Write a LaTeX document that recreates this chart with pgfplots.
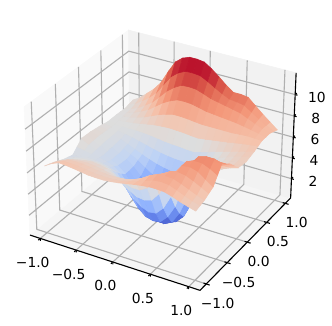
\documentclass[border=0pt]{standalone}
\usepackage{fontspec}
\setmainfont{DejaVu Sans}
\usepackage{pgfplots}
\pgfplotsset{compat=1.18}
\definecolor{gridc}{gray}{0.69}
\definecolor{paneA}{gray}{0.975}
\definecolor{paneB}{gray}{0.95}
\definecolor{paneC}{gray}{0.9625}
% pgfplots has no perspective view, so the point macro is replaced by one with a camera at distance 10
\makeatletter
\def\perspxyz#1#2#3{%
  \begingroup
  \pgfmathparse{10/(10-0.2159*(#1)+0.3741*(#2)-0.03602*((#3)-6.05))}\let\perspf=\pgfmathresult
  \pgfmathparse{(#3)-6.05}\let\perspz=\pgfmathresult
  \pgf@xa=#1\pgf@xx \advance\pgf@xa by #2\pgf@yx \advance\pgf@xa by \perspz\pgf@zx
  \pgf@ya=#1\pgf@xy \advance\pgf@ya by #2\pgf@yy \advance\pgf@ya by \perspz\pgf@zy
  \pgf@xb=6.05\pgf@zx \pgf@yb=6.05\pgf@zy
  \global\pgf@x=\perspf\pgf@xa \global\advance\pgf@x by \pgf@xb
  \global\pgf@y=\perspf\pgf@ya \global\advance\pgf@y by \pgf@yb
  \endgroup}
\makeatother
\begin{document}
\begin{tikzpicture}
\begin{axis}[
    disabledatascaling,
    x={(53.22pt,-15.36pt)}, y={(30.72pt,26.60pt)}, z={(0pt,7.69pt)},
    xmin=-1.1458, xmax=1.1458, ymin=-1.1458, ymax=1.1458, zmin=0.1, zmax=12,
    xtick={-1,-0.5,0,0.5,1}, ytick={-1,-0.5,0,0.5,1}, ztick={2,4,6,8,10},
    xticklabels={−1.0,−0.5,0.0,0.5,1.0},
    yticklabels={−1.0,−0.5,0.0,0.5,1.0},
    zticklabels={2,4,6,8,10},
    tick label style={font=\fontsize{10}{12}\selectfont,anchor=center},
    xticklabel style={xshift=-4pt,yshift=-16pt},
    yticklabel style={xshift=6.5pt,yshift=-13.5pt},
    zticklabel style={xshift=14.5pt,yshift=-3pt},
    axis line style={draw=none},
    tick style={black,line width=0.8pt},
    ytick style={draw=none},
    major tick length=3.5pt, tick align=center,
    xtick pos=left, ytick pos=right, ztick pos=right,
    yticklabel pos=left, zticklabel pos=right,
    clip=false,
    execute at begin axis={\global\let\pgfplotsqpointxyz=\perspxyz},
    colormap={coolwarm}{rgb255(0pt)=(58,76,192); rgb255(1pt)=(98,130,234); rgb255(2pt)=(141,176,254);
      rgb255(3pt)=(192,212,245); rgb255(4pt)=(221,221,221); rgb255(5pt)=(245,196,173);
      rgb255(6pt)=(244,152,122); rgb255(7pt)=(222,96,77); rgb255(8pt)=(180,4,38)},
    point meta min=0.8, point meta max=10.9,
]
  \pgfplotsextra{\global\let\pgfplotsqpointxyz=\perspxyz}
  % panes
  \addplot3[fill=paneC,draw=paneC,forget plot] coordinates {(-1.1458,-1.1458,0.1) (1.1458,-1.1458,0.1) (1.1458,1.1458,0.1) (-1.1458,1.1458,0.1) (-1.1458,-1.1458,0.1)};
  \addplot3[fill=paneA,draw=paneA,forget plot] coordinates {(-1.1458,-1.1458,0.1) (-1.1458,1.1458,0.1) (-1.1458,1.1458,12) (-1.1458,-1.1458,12) (-1.1458,-1.1458,0.1)};
  \addplot3[fill=paneB,draw=paneB,forget plot] coordinates {(-1.1458,1.1458,0.1) (1.1458,1.1458,0.1) (1.1458,1.1458,12) (-1.1458,1.1458,12) (-1.1458,1.1458,0.1)};
  % grid
  \pgfplotsinvokeforeach{-1,-0.5,0,0.5,1}{
    \addplot3[gridc,line width=0.8pt,forget plot] coordinates {(#1,-1.1458,0.1) (#1,1.1458,0.1) (#1,1.1458,12)};
    \addplot3[gridc,line width=0.8pt,forget plot] coordinates {(1.1458,#1,0.1) (-1.1458,#1,0.1) (-1.1458,#1,12)};
  }
  \pgfplotsinvokeforeach{2,4,6,8,10}{
    \addplot3[gridc,line width=0.8pt,forget plot] coordinates {(-1.1458,-1.1458,#1) (-1.1458,1.1458,#1) (1.1458,1.1458,#1)};
  }
  % axis lines, and the y ticks that the native ones would put on the far edge
  \addplot3[black,line width=0.8pt,forget plot] coordinates {(-1.1458,-1.1458,0.1) (1.1458,-1.1458,0.1) (1.1458,1.1458,0.1) (1.1458,1.1458,12)};
  \pgfplotsinvokeforeach{-1,-0.5,0,0.5,1}{
    \addplot3[black,line width=0.8pt,forget plot] coordinates {(1.11,#1,0.1) (1.19,#1,0.1)};
  }
  % surface
  \addplot3[surf,shader=flat mean,z buffer=sort,forget plot] coordinates {
(-1.0,-1.0,6.42) (-0.9,-1.0,6.85) (-0.8,-1.0,7.13) (-0.7,-1.0,7.08) (-0.6,-1.0,7.0) (-0.5,-1.0,6.9) (-0.4,-1.0,6.8) (-0.3,-1.0,6.77) (-0.2,-1.0,6.77) (-0.1,-1.0,6.83) (0.0,-1.0,6.93) (0.1,-1.0,7.06) (0.2,-1.0,7.2) (0.3,-1.0,7.31) (0.4,-1.0,7.4) (0.5,-1.0,7.41) (0.6,-1.0,7.36) (0.7,-1.0,7.16) (0.8,-1.0,6.89) (0.9,-1.0,6.68) (1.0,-1.0,6.48)

(-1.0,-0.9,6.25) (-0.9,-0.9,6.64) (-0.8,-0.9,6.92) (-0.7,-0.9,6.9) (-0.6,-0.9,6.85) (-0.5,-0.9,6.75) (-0.4,-0.9,6.65) (-0.3,-0.9,6.6) (-0.2,-0.9,6.59) (-0.1,-0.9,6.63) (0.0,-0.9,6.72) (0.1,-0.9,6.89) (0.2,-0.9,7.1) (0.3,-0.9,7.4) (0.4,-0.9,7.65) (0.5,-0.9,7.72) (0.6,-0.9,7.65) (0.7,-0.9,7.4) (0.8,-0.9,7.1) (0.9,-0.9,6.84) (1.0,-0.9,6.61)

(-1.0,-0.8,6.07) (-0.9,-0.8,6.42) (-0.8,-0.8,6.7) (-0.7,-0.8,6.72) (-0.6,-0.8,6.7) (-0.5,-0.8,6.6) (-0.4,-0.8,6.5) (-0.3,-0.8,6.43) (-0.2,-0.8,6.4) (-0.1,-0.8,6.43) (0.0,-0.8,6.5) (0.1,-0.8,6.72) (0.2,-0.8,7.05) (0.3,-0.8,7.5) (0.4,-0.8,7.8) (0.5,-0.8,7.9) (0.6,-0.8,7.85) (0.7,-0.8,7.6) (0.8,-0.8,7.3) (0.9,-0.8,7.0) (1.0,-0.8,6.74)

(-1.0,-0.7,5.86) (-0.9,-0.7,6.13) (-0.8,-0.7,6.35) (-0.7,-0.7,6.42) (-0.6,-0.7,6.45) (-0.5,-0.7,6.36) (-0.4,-0.7,6.25) (-0.3,-0.7,6.1) (-0.2,-0.7,5.9) (-0.1,-0.7,5.6) (0.0,-0.7,5.4) (0.1,-0.7,5.4) (0.2,-0.7,5.8) (0.3,-0.7,6.6) (0.4,-0.7,7.5) (0.5,-0.7,7.9) (0.6,-0.7,8.1) (0.7,-0.7,8.0) (0.8,-0.7,7.7) (0.9,-0.7,7.35) (1.0,-0.7,6.97)

(-1.0,-0.6,5.65) (-0.9,-0.6,5.84) (-0.8,-0.6,6.0) (-0.7,-0.6,6.12) (-0.6,-0.6,6.2) (-0.5,-0.6,6.12) (-0.4,-0.6,6.0) (-0.3,-0.6,5.6) (-0.2,-0.6,5.1) (-0.1,-0.6,4.6) (0.0,-0.6,4.2) (0.1,-0.6,4.1) (0.2,-0.6,4.3) (0.3,-0.6,5.1) (0.4,-0.6,6.3) (0.5,-0.6,7.4) (0.6,-0.6,8.3) (0.7,-0.6,8.4) (0.8,-0.6,8.2) (0.9,-0.6,7.7) (1.0,-0.6,7.2)

(-1.0,-0.5,5.5) (-0.9,-0.5,5.65) (-0.8,-0.5,5.75) (-0.7,-0.5,5.8) (-0.6,-0.5,5.8) (-0.5,-0.5,5.68) (-0.4,-0.5,5.5) (-0.3,-0.5,4.9) (-0.2,-0.5,4.2) (-0.1,-0.5,3.4) (0.0,-0.5,2.9) (0.1,-0.5,2.6) (0.2,-0.5,2.7) (0.3,-0.5,3.4) (0.4,-0.5,4.7) (0.5,-0.5,6.6) (0.6,-0.5,8.3) (0.7,-0.5,8.6) (0.8,-0.5,8.6) (0.9,-0.5,8.3) (1.0,-0.5,7.9)

(-1.0,-0.4,5.36) (-0.9,-0.4,5.45) (-0.8,-0.4,5.5) (-0.7,-0.4,5.47) (-0.6,-0.4,5.4) (-0.5,-0.4,5.24) (-0.4,-0.4,5.0) (-0.3,-0.4,4.1) (-0.2,-0.4,3.1) (-0.1,-0.4,2.2) (0.0,-0.4,1.6) (0.1,-0.4,1.4) (0.2,-0.4,1.5) (0.3,-0.4,2.2) (0.4,-0.4,3.4) (0.5,-0.4,5.4) (0.6,-0.4,7.7) (0.7,-0.4,8.6) (0.8,-0.4,8.8) (0.9,-0.4,8.8) (1.0,-0.4,8.6)

(-1.0,-0.3,5.8) (-0.9,-0.3,5.68) (-0.8,-0.3,5.55) (-0.7,-0.3,5.38) (-0.6,-0.3,5.2) (-0.5,-0.3,4.97) (-0.4,-0.3,4.5) (-0.3,-0.3,3.6) (-0.2,-0.3,2.6) (-0.1,-0.3,1.7) (0.0,-0.3,1.15) (0.1,-0.3,0.95) (0.2,-0.3,0.95) (0.3,-0.3,1.3) (0.4,-0.3,2.4) (0.5,-0.3,4.0) (0.6,-0.3,6.1) (0.7,-0.3,7.6) (0.8,-0.3,8.0) (0.9,-0.3,8.2) (1.0,-0.3,8.2)

(-1.0,-0.2,6.25) (-0.9,-0.2,5.9) (-0.8,-0.2,5.6) (-0.7,-0.2,5.3) (-0.6,-0.2,5.0) (-0.5,-0.2,4.7) (-0.4,-0.2,4.1) (-0.3,-0.2,3.2) (-0.2,-0.2,2.3) (-0.1,-0.2,1.4) (0.0,-0.2,0.95) (0.1,-0.2,0.8) (0.2,-0.2,0.8) (0.3,-0.2,1.0) (0.4,-0.2,1.7) (0.5,-0.2,3.2) (0.6,-0.2,5.1) (0.7,-0.2,6.4) (0.8,-0.2,7.1) (0.9,-0.2,7.55) (1.0,-0.2,7.85)

(-1.0,-0.1,6.22) (-0.9,-0.1,5.93) (-0.8,-0.1,5.65) (-0.7,-0.1,5.33) (-0.6,-0.1,5.0) (-0.5,-0.1,4.66) (-0.4,-0.1,4.1) (-0.3,-0.1,3.3) (-0.2,-0.1,2.5) (-0.1,-0.1,1.75) (0.0,-0.1,1.15) (0.1,-0.1,0.9) (0.2,-0.1,0.85) (0.3,-0.1,1.15) (0.4,-0.1,2.0) (0.5,-0.1,3.6) (0.6,-0.1,5.2) (0.7,-0.1,6.1) (0.8,-0.1,6.7) (0.9,-0.1,7.08) (1.0,-0.1,7.32)

(-1.0,0.0,6.2) (-0.9,0.0,5.97) (-0.8,0.0,5.7) (-0.7,0.0,5.37) (-0.6,0.0,5.0) (-0.5,0.0,4.62) (-0.4,0.0,4.15) (-0.3,0.0,3.45) (-0.2,0.0,2.8) (-0.1,0.0,2.2) (0.0,0.0,1.7) (0.1,0.0,1.35) (0.2,0.0,1.2) (0.3,0.0,1.6) (0.4,0.0,2.6) (0.5,0.0,3.9) (0.6,0.0,5.1) (0.7,0.0,5.8) (0.8,0.0,6.3) (0.9,0.0,6.6) (1.0,0.0,6.8)

(-1.0,0.1,6.12) (-0.9,0.1,5.93) (-0.8,0.1,5.7) (-0.7,0.1,5.42) (-0.6,0.1,5.1) (-0.5,0.1,4.76) (-0.4,0.1,4.4) (-0.3,0.1,3.9) (-0.2,0.1,3.45) (-0.1,0.1,3.05) (0.0,0.1,2.7) (0.1,0.1,2.5) (0.2,0.1,2.45) (0.3,0.1,2.9) (0.4,0.1,3.8) (0.5,0.1,4.7) (0.6,0.1,5.45) (0.7,0.1,5.92) (0.8,0.1,6.3) (0.9,0.1,6.55) (1.0,0.1,6.72)

(-1.0,0.2,6.05) (-0.9,0.2,5.9) (-0.8,0.2,5.7) (-0.7,0.2,5.47) (-0.6,0.2,5.2) (-0.5,0.2,4.9) (-0.4,0.2,4.6) (-0.3,0.2,4.33) (-0.2,0.2,4.1) (-0.1,0.2,3.92) (0.0,0.2,3.8) (0.1,0.2,3.8) (0.2,0.2,3.9) (0.3,0.2,4.33) (0.4,0.2,4.8) (0.5,0.2,5.27) (0.6,0.2,5.7) (0.7,0.2,6.03) (0.8,0.2,6.3) (0.9,0.2,6.5) (1.0,0.2,6.65)

(-1.0,0.3,5.95) (-0.9,0.3,5.86) (-0.8,0.3,5.75) (-0.7,0.3,5.62) (-0.6,0.3,5.5) (-0.5,0.3,5.33) (-0.4,0.3,5.15) (-0.3,0.3,4.96) (-0.2,0.3,4.8) (-0.1,0.3,4.68) (0.0,0.3,4.6) (0.1,0.3,4.56) (0.2,0.3,4.6) (0.3,0.3,4.9) (0.4,0.3,5.25) (0.5,0.3,5.58) (0.6,0.3,5.9) (0.7,0.3,6.17) (0.8,0.3,6.4) (0.9,0.3,6.6) (1.0,0.3,6.78)

(-1.0,0.4,5.85) (-0.9,0.4,5.82) (-0.8,0.4,5.8) (-0.7,0.4,5.78) (-0.6,0.4,5.8) (-0.5,0.4,5.76) (-0.4,0.4,5.7) (-0.3,0.4,5.6) (-0.2,0.4,5.5) (-0.1,0.4,5.44) (0.0,0.4,5.4) (0.1,0.4,5.33) (0.2,0.4,5.3) (0.3,0.4,5.48) (0.4,0.4,5.7) (0.5,0.4,5.9) (0.6,0.4,6.1) (0.7,0.4,6.3) (0.8,0.4,6.5) (0.9,0.4,6.7) (1.0,0.4,6.9)

(-1.0,0.5,5.85) (-0.9,0.5,5.86) (-0.8,0.5,5.9) (-0.7,0.5,5.98) (-0.6,0.5,6.1) (-0.5,0.5,6.23) (-0.4,0.5,6.35) (-0.3,0.5,6.41) (-0.2,0.5,6.45) (-0.1,0.5,6.42) (0.0,0.5,6.38) (0.1,0.5,6.3) (0.2,0.5,6.25) (0.3,0.5,6.34) (0.4,0.5,6.45) (0.5,0.5,6.55) (0.6,0.5,6.65) (0.7,0.5,6.78) (0.8,0.5,6.9) (0.9,0.5,6.99) (1.0,0.5,7.08)

(-1.0,0.6,5.85) (-0.9,0.6,5.9) (-0.8,0.6,6.0) (-0.7,0.6,6.18) (-0.6,0.6,6.4) (-0.5,0.6,6.7) (-0.4,0.6,7.0) (-0.3,0.6,7.22) (-0.2,0.6,7.4) (-0.1,0.6,7.4) (0.0,0.6,7.35) (0.1,0.6,7.27) (0.2,0.6,7.2) (0.3,0.6,7.2) (0.4,0.6,7.2) (0.5,0.6,7.2) (0.6,0.6,7.2) (0.7,0.6,7.25) (0.8,0.6,7.3) (0.9,0.6,7.28) (1.0,0.6,7.25)

(-1.0,0.7,5.83) (-0.9,0.7,5.95) (-0.8,0.7,6.15) (-0.7,0.7,6.45) (-0.6,0.7,6.8) (-0.5,0.7,7.3) (-0.4,0.7,7.8) (-0.3,0.7,8.17) (-0.2,0.7,8.45) (-0.1,0.7,8.48) (0.0,0.7,8.43) (0.1,0.7,8.27) (0.2,0.7,8.1) (0.3,0.7,8.03) (0.4,0.7,7.95) (0.5,0.7,7.88) (0.6,0.7,7.8) (0.7,0.7,7.68) (0.8,0.7,7.55) (0.9,0.7,7.4) (1.0,0.7,7.25)

(-1.0,0.8,5.8) (-0.9,0.8,6.0) (-0.8,0.8,6.3) (-0.7,0.8,6.72) (-0.6,0.8,7.2) (-0.5,0.8,7.9) (-0.4,0.8,8.6) (-0.3,0.8,9.12) (-0.2,0.8,9.5) (-0.1,0.8,9.55) (0.0,0.8,9.5) (0.1,0.8,9.27) (0.2,0.8,9.0) (0.3,0.8,8.85) (0.4,0.8,8.7) (0.5,0.8,8.55) (0.6,0.8,8.4) (0.7,0.8,8.1) (0.8,0.8,7.8) (0.9,0.8,7.52) (1.0,0.8,7.25)

(-1.0,0.9,5.9) (-0.9,0.9,6.2) (-0.8,0.9,6.65) (-0.7,0.9,7.16) (-0.6,0.9,7.8) (-0.5,0.9,8.75) (-0.4,0.9,9.65) (-0.3,0.9,10.18) (-0.2,0.9,10.5) (-0.1,0.9,10.52) (0.0,0.9,10.45) (0.1,0.9,10.11) (0.2,0.9,9.7) (0.3,0.9,9.32) (0.4,0.9,9.0) (0.5,0.9,8.92) (0.6,0.9,8.8) (0.7,0.9,8.35) (0.8,0.9,7.9) (0.9,0.9,7.48) (1.0,0.9,7.08)

(-1.0,1.0,6.0) (-0.9,1.0,6.4) (-0.8,1.0,7.0) (-0.7,1.0,7.6) (-0.6,1.0,8.4) (-0.5,1.0,9.6) (-0.4,1.0,10.7) (-0.3,1.0,11.25) (-0.2,1.0,11.5) (-0.1,1.0,11.5) (0.0,1.0,11.4) (0.1,1.0,10.95) (0.2,1.0,10.4) (0.3,1.0,9.8) (0.4,1.0,9.3) (0.5,1.0,9.3) (0.6,1.0,9.2) (0.7,1.0,8.6) (0.8,1.0,8.0) (0.9,1.0,7.45) (1.0,1.0,6.9)
  };
  \coordinate (c) at (axis cs:0,0,6.05);
\end{axis}
\path[use as bounding box,shift={(c)}] (-117.51pt,111.44pt) rectangle (122.42pt,-123.44pt);
\end{tikzpicture}
\end{document}
